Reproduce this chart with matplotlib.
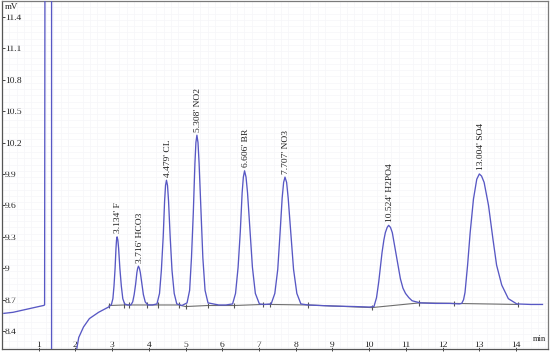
import numpy as np
import matplotlib.pyplot as plt

plt.rcParams['font.family'] = ['Liberation Serif', 'DejaVu Serif']

# chromatogram trace, time [min] vs signal [mV]
t_trace = [0.05, 0.30, 0.55, 0.80, 1.00, 1.13, 1.16, 1.17, 1.35, 1.35, 2.00,
           2.02, 2.09, 2.22, 2.38, 2.63, 2.90,
           # F
           2.98, 3.02, 3.05, 3.08, 3.104, 3.119, 3.134, 3.155, 3.176, 3.21, 3.25, 3.29, 3.34,
           3.42,
           # HCO3
           3.51, 3.56, 3.60, 3.64, 3.674, 3.695, 3.716, 3.742, 3.767, 3.81, 3.85, 3.90, 3.97,
           4.10,
           # CL
           4.22, 4.29, 4.34, 4.39, 4.428, 4.454, 4.479, 4.508, 4.536, 4.58, 4.63, 4.69, 4.76,
           4.90,
           # NO2
           5.04, 5.11, 5.16, 5.21, 5.254, 5.281, 5.308, 5.338, 5.368, 5.42, 5.47, 5.53, 5.61,
           5.90, 6.10,
           # BR
           6.28, 6.36, 6.43, 6.49, 6.54, 6.573, 6.606, 6.646, 6.687, 6.755, 6.82, 6.90, 7.01,
           7.15,
           # NO3
           7.33, 7.43, 7.51, 7.57, 7.63, 7.670, 7.707, 7.751, 7.794, 7.87, 7.94, 8.03, 8.14,
           8.33, 9.00, 9.60, 10.00,
           # H2PO4
           10.13, 10.20, 10.26, 10.35, 10.40, 10.44, 10.49, 10.53, 10.58, 10.63, 10.74, 10.85,
           10.92, 10.99, 11.08, 11.17, 11.39, 11.80, 12.20, 12.45,
           # SO4
           12.52, 12.57, 12.61, 12.68, 12.75, 12.84, 12.93, 13.00, 13.06, 13.13, 13.25, 13.37,
           13.47, 13.61, 13.79, 14.02, 14.40, 14.72]
mv_trace = [8.57, 8.58, 8.60, 8.62, 8.635, 8.645, 8.65, 11.90, 11.90, 8.10, 8.10,
            8.20, 8.34, 8.44, 8.52, 8.58, 8.63,
            8.655, 8.71, 8.83, 9.00, 9.19, 9.27, 9.30, 9.27, 9.19, 9.00, 8.83, 8.71, 8.66,
            8.65,
            8.65, 8.68, 8.75, 8.85, 8.96, 9.00, 9.02, 9.00, 8.96, 8.85, 8.75, 8.68, 8.65,
            8.65,
            8.66, 8.76, 8.98, 9.30, 9.64, 9.79, 9.84, 9.79, 9.64, 9.30, 8.98, 8.76, 8.66,
            8.645,
            8.67, 8.79, 9.10, 9.53, 10.00, 10.20, 10.27, 10.20, 10.00, 9.53, 9.10, 8.79, 8.67,
            8.65, 8.65,
            8.66, 8.76, 9.01, 9.35, 9.72, 9.87, 9.93, 9.87, 9.72, 9.35, 9.01, 8.76, 8.66,
            8.655,
            8.66, 8.76, 8.99, 9.32, 9.67, 9.82, 9.87, 9.82, 9.67, 9.32, 8.99, 8.76, 8.66,
            8.65, 8.64, 8.635, 8.63,
            8.635, 8.72, 8.87, 9.15, 9.27, 9.34, 9.39, 9.41, 9.39, 9.34, 9.12, 8.90,
            8.81, 8.76, 8.72, 8.69, 8.67, 8.665, 8.665, 8.66,
            8.665, 8.70, 8.77, 9.03, 9.34, 9.66, 9.85, 9.90, 9.88, 9.82, 9.60, 9.28,
            9.03, 8.84, 8.71, 8.66, 8.655, 8.655]

# integration baseline and its start/end marks
t_base = [2.92, 3.33, 3.47, 3.95, 4.25, 4.82, 5.00, 5.60, 6.32, 7.10, 7.30, 8.33,
          10.07, 11.37, 12.30, 14.04]
mv_base = [8.645, 8.65, 8.65, 8.65, 8.65, 8.65, 8.635, 8.645, 8.645, 8.655, 8.655, 8.65,
           8.625, 8.67, 8.665, 8.655]

# peak annotations
peak_names = ["F", "HCO3", "CL", "NO2", "BR", "NO3", "H2PO4", "SO4"]
peak_times = [3.134, 3.716, 4.479, 5.308, 6.606, 7.707, 10.524, 13.004]
peak_tops = [9.30, 9.02, 9.84, 10.27, 9.93, 9.87, 9.41, 9.90]

xticks = list(range(1, 15))
yticks = [8.4, 8.7, 9.0, 9.3, 9.6, 9.9, 10.2, 10.5, 10.8, 11.1, 11.4]
ytick_labels = ["8.4", "8.7", "9", "9.3", "9.6", "9.9", "10.2", "10.5", "10.8", "11.1", "11.4"]

trace_color = "#5858c4"
frame_color = "#7a7a7a"

fig = plt.figure(figsize=(5.52, 3.53), dpi=100)
ax = fig.add_axes([2/552, 4/353, 546/552, 348/353])
ax.set_xlim(0.05, 14.87)
ax.set_ylim(8.23, 11.54)

# very faint background grid
ax.set_xticks(np.arange(0, 15, 0.2), minor=True)
ax.set_yticks(np.arange(8.25, 11.55, 0.06), minor=True)
ax.grid(which='minor', color='#f6f6f9', linewidth=0.5)
ax.tick_params(which='minor', length=0)

ax.plot(t_base, mv_base, color="#6e6e6e", linewidth=0.8, zorder=2)
ax.vlines(t_base, np.array(mv_base) - 0.025, np.array(mv_base) + 0.025,
          color="#555555", linewidth=0.8, zorder=2)
ax.plot(t_trace, mv_trace, color=trace_color, linewidth=0.95, zorder=3)

for name, tp, top in zip(peak_names, peak_times, peak_tops):
    ax.annotate(f"{tp:.3f}' {name}", xy=(tp, top), xytext=(0.8, 2.5),
                textcoords='offset points', rotation=90, ha='center', va='bottom',
                fontsize=6.8, color="#222222")

ax.set_xticks(xticks)
ax.set_xticklabels([str(x) for x in xticks])
ax.set_yticks(yticks)
ax.set_yticklabels(ytick_labels)
ax.tick_params(axis='x', direction='inout', length=3.5, width=0.7, color="#444444",
               pad=-2, labelsize=6.8, labelcolor="#222222")
ax.tick_params(axis='y', direction='in', length=2.5, width=0.7, color="#444444",
               pad=-2.2, labelsize=6.8, labelcolor="#222222")
for lab in ax.get_xticklabels():
    lab.set_verticalalignment('bottom')
for lab in ax.get_yticklabels():
    lab.set_horizontalalignment('left')

ax.text(0.005, 0.993, "mV", transform=ax.transAxes, ha='left', va='top',
        fontsize=6.5, color="#222222")
ax.text(0.997, 0.018, "min", transform=ax.transAxes, ha='right', va='bottom',
        fontsize=6.2, color="#222222")

for side in ['left', 'right', 'top', 'bottom']:
    ax.spines[side].set_color(frame_color)
    ax.spines[side].set_linewidth(0.9)
ax.spines['left'].set_color("#555555")
ax.spines['bottom'].set_color("#555555")

fig.savefig("out.png", dpi=100, facecolor="white")
